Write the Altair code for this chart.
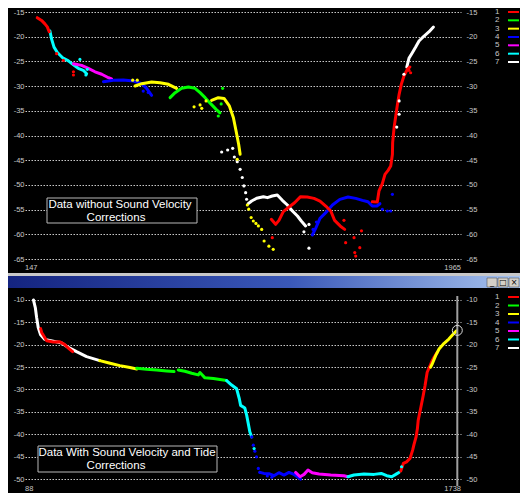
import altair as alt
import pandas as pd

SERIES = ["1", "2", "3", "4", "5", "6", "7"]
SERIES_COLORS = ["#ff0000", "#00ff00", "#ffff00", "#0000ff", "#ff00ff", "#00ffff", "#ffffff"]

TOP_X_RANGE = [147, 1965]
TOP_Y_DOMAIN = [-65.4, -14.39]
TOP_Y_TICKS = [-15, -20, -25, -30, -35, -40, -45, -50, -55, -60, -65]
BOTTOM_X_RANGE = [88, 1738]
BOTTOM_Y_DOMAIN = [-51.33, -7.56]
BOTTOM_Y_TICKS = [-10, -15, -20, -25, -30, -35, -40, -45, -50]
TOP_NOTE = ["Data without Sound Velocity", "Corrections"]
BOTTOM_NOTE = ["Data With Sound Velocity and Tide", "Corrections"]
CURSOR_X = 1724
CURSOR_Y = -16.8

# ---------------- top panel (without corrections) ----------------
T1_A_X = [198, 216, 230, 240, 248]
T1_A_Y = [-16.15, -16.7, -17.4, -18.0, -19.0]
T1_ARC_X = [1174, 1192, 1206, 1224, 1248, 1271, 1296, 1324, 1352, 1377, 1401, 1422, 1438, 1461, 1480]
T1_ARC_Y = [-56.97, -57.98, -57.17, -55.4, -54.47, -53.6, -52.38, -52.45, -52.72, -53.26, -54.27, -55.28, -57.17, -58.3, -58.99]
T1_RISE_X = [1595, 1616, 1623, 1637, 1648, 1661, 1672, 1679, 1680, 1686, 1693, 1700, 1707, 1716, 1727, 1741, 1752]
T1_RISE_Y = [-53.4, -53.46, -51.23, -49.75, -47.86, -47.05, -46.17, -43.81, -41.45, -38.4, -36.05, -33.7, -31.67, -29.64, -27.96, -26.6, -26.13]
T1_PTS_X = [279, 307, 349, 349, 1178, 1484, 1519, 1522, 1543, 1550, 1477, 1526, 1755, 1748]
T1_PTS_Y = [-23.43, -24.78, -27.1, -27.75, -60.68, -61.69, -60.68, -63.7, -62.7, -59.3, -57.17, -64.4, -27.3, -26.8]

T2_X = [752, 773, 800, 828, 856, 877, 898, 921, 944, 960]
T2_Y = [-32.34, -31.33, -30.45, -30.18, -30.45, -31.33, -32.34, -33.55, -34.7, -35.4]
T2_PTS_X = [971, 953, 965]
T2_PTS_Y = [-30.45, -36.05, -33.6]

T3_A_X = [606, 634, 675, 710, 745, 779]
T3_A_Y = [-29.98, -29.5, -29.17, -29.3, -29.64, -30.45]
T3_B_X = [925, 953, 977, 999, 1016, 1030, 1038, 1044]
T3_B_Y = [-32.9, -32.35, -32.5, -34.0, -36.4, -39.8, -41.8, -43.8]
T3_PTS_X = [596, 615, 852, 877, 884, 902, 1032, 1074, 1080, 1090, 1099, 1110, 1120, 1134, 1144, 1164, 1182]
T3_PTS_Y = [-28.8, -28.8, -34.2, -33.8, -34.5, -33.0, -44.8, -54.07, -54.9, -56.6, -57.3, -57.8, -58.3, -59.0, -61.35, -62.4, -63.04]

T4_A_X = [474, 515, 557, 599, 634, 654, 675]
T4_A_Y = [-29.1, -28.83, -28.77, -28.97, -29.5, -30.45, -31.87]
T4_ARC_X = [1345, 1359, 1377, 1401, 1429, 1460, 1494, 1526, 1554, 1577, 1595, 1614, 1627]
T4_ARC_Y = [-60.14, -58.8, -56.77, -55.62, -54.07, -52.92, -52.45, -52.72, -53.12, -53.4, -54.27, -54.27, -53.8]
T4_PTS_X = [640, 661, 1637, 1658, 1672, 1679, 1362, 1348]
T4_PTS_Y = [-31.0, -31.3, -54.94, -55.28, -55.28, -51.9, -57.5, -59.0]

T5_X = [349, 383, 411, 439, 467, 495, 508]
T5_Y = [-25.46, -25.8, -26.4, -27.1, -27.6, -28.3, -28.56]

T6_X = [251, 258, 268, 282, 304, 328, 349, 369, 390, 404]
T6_Y = [-18.85, -20.5, -22.1, -23.2, -24.25, -24.9, -25.7, -26.4, -26.8, -27.5]
T6_PTS_X = [376, 407, 401]
T6_PTS_Y = [-24.6, -26.6, -27.75]

T7_ARC_X = [1078, 1092, 1113, 1141, 1158, 1178, 1199, 1220, 1241, 1262, 1283, 1299, 1317]
T7_ARC_Y = [-53.8, -53.26, -52.7, -52.38, -52.58, -52.24, -52.04, -53.12, -54.07, -55.28, -56.3, -57.3, -58.3]
T7_B_X = [1739, 1748, 1762, 1776, 1790, 1811, 1832, 1850]
T7_B_Y = [-26.13, -24.38, -23.23, -22.09, -20.87, -19.86, -18.98, -18.04]
T7_PTS_X = [967, 992, 1013, 1020, 1032, 1044, 1053, 1060, 1067, 1071, 1310, 1331, 1331, 1727, 1707, 1697, 1707]
T7_PTS_Y = [-43.34, -42.93, -42.6, -44.35, -45.3, -46.85, -48.5, -50.2, -51.57, -52.9, -59.5, -58.0, -62.8, -27.6, -35.7, -38.3, -33.0]

# ---------------- bottom panel (with corrections) ----------------
B7_X = [120, 127, 132, 138, 147, 163, 195, 227, 252, 283, 321, 371]
B7_Y = [-10.0, -11.7, -13.93, -16.15, -17.78, -18.81, -19.2, -19.63, -20.6, -21.56, -22.67, -23.56]
B1_A_X = [147, 151, 170, 195, 218, 236, 252, 268]
B1_A_Y = [-16.4, -17.26, -19.11, -19.41, -19.33, -19.85, -20.74, -21.56]
B3_A_X = [371, 410, 447, 485, 511]
B3_A_Y = [-23.56, -24.15, -24.67, -25.11, -25.41]
B2_A_X = [511, 548, 586, 624, 652]
B2_A_Y = [-25.26, -25.48, -25.63, -25.85, -26.0]
B2_B_X = [668, 693, 719, 744, 750, 769, 801, 826, 851]
B2_B_Y = [-25.63, -25.93, -26.37, -26.74, -26.22, -27.4, -27.55, -27.78, -28.0]
B6_A_X = [851, 870, 889, 899, 904, 920, 927, 933, 939, 946]
B6_A_Y = [-28.0, -29.0, -29.85, -32.07, -33.55, -34.15, -35.78, -37.63, -39.48, -40.6]
B4_X = [977, 992, 1011, 1030, 1049, 1068, 1087, 1106, 1119, 1131]
B4_Y = [-48.5, -48.74, -48.81, -49.26, -48.59, -49.11, -48.52, -48.96, -49.48, -50.0]
B4_PTS_X = [946, 952, 958, 964, 971, 977, 1005, 1022]
B4_PTS_Y = [-40.59, -42.44, -43.78, -45.04, -47.63, -48.5, -49.3, -49.6]
B5_X = [1112, 1129, 1144, 1159, 1175, 1201, 1245, 1295, 1310]
B5_Y = [-48.52, -49.48, -48.96, -48.0, -48.59, -48.89, -49.11, -49.26, -49.48]
B6_B_X = [1310, 1333, 1371, 1409, 1436, 1457, 1476, 1491, 1503]
B6_B_Y = [-49.48, -49.11, -48.89, -48.96, -48.74, -49.26, -49.48, -48.96, -48.52]
B6_PTS_X = [955, 1513]
B6_PTS_Y = [-43.2, -47.26]
B1_B_X = [1510, 1520, 1532, 1545, 1555, 1560, 1568, 1573, 1576, 1585, 1595, 1602, 1606, 1610, 1621, 1629, 1636, 1648]
B1_B_Y = [-48.22, -46.5, -46.15, -45.4, -43.55, -42.3, -40.59, -38.74, -36.9, -34.3, -31.33, -29.1, -27.6, -26.15, -24.67, -23.56, -22.8, -21.7]
B3_B_X = [1623, 1629, 1642, 1655, 1674, 1692, 1709, 1721]
B3_B_Y = [-25.0, -24.3, -22.44, -20.96, -19.7, -18.74, -17.63, -16.89]


def build(parts):
    rows = []
    for seg, (s, xs, ys) in enumerate(parts):
        for i, (x, y) in enumerate(zip(xs, ys)):
            rows.append({"x": x, "y": y, "s": s, "seg": seg, "i": i})
    return pd.DataFrame(rows)


top_lines = build([
    ("7", T7_ARC_X, T7_ARC_Y), ("7", T7_B_X, T7_B_Y),
    ("6", T6_X, T6_Y), ("5", T5_X, T5_Y),
    ("4", T4_A_X, T4_A_Y), ("4", T4_ARC_X, T4_ARC_Y),
    ("3", T3_A_X, T3_A_Y), ("3", T3_B_X, T3_B_Y),
    ("2", T2_X, T2_Y),
    ("1", T1_A_X, T1_A_Y), ("1", T1_ARC_X, T1_ARC_Y), ("1", T1_RISE_X, T1_RISE_Y),
])
top_pts = build([
    ("7", T7_PTS_X, T7_PTS_Y), ("6", T6_PTS_X, T6_PTS_Y), ("4", T4_PTS_X, T4_PTS_Y),
    ("3", T3_PTS_X, T3_PTS_Y), ("2", T2_PTS_X, T2_PTS_Y), ("1", T1_PTS_X, T1_PTS_Y),
])
bottom_lines = build([
    ("7", B7_X, B7_Y), ("1", B1_A_X, B1_A_Y), ("3", B3_A_X, B3_A_Y),
    ("2", B2_A_X, B2_A_Y), ("2", B2_B_X, B2_B_Y), ("6", B6_A_X, B6_A_Y),
    ("4", B4_X, B4_Y), ("5", B5_X, B5_Y), ("6", B6_B_X, B6_B_Y),
    ("1", B1_B_X, B1_B_Y), ("3", B3_B_X, B3_B_Y),
])
bottom_pts = build([
    ("4", B4_PTS_X, B4_PTS_Y), ("6", B6_PTS_X, B6_PTS_Y),
])

COLOR = alt.Color("s:N", scale=alt.Scale(domain=SERIES, range=SERIES_COLORS), legend=None)
LABEL = "#c8c8c8"
ONE = pd.DataFrame({"a": [0]})
RIGHT_EDGE = 495  # panel-local pixel where the drawing ends (keeps chart within 512 px)


def note(lines, box, pos):
    x0, x1, y0, y1 = box
    layers = [alt.Chart(ONE).mark_rect(fill="#000000", stroke="#b8b8b8", strokeWidth=1).encode(
        x=alt.value(x0), x2=alt.value(x1), y=alt.value(y0), y2=alt.value(y1))]
    for t, (cx, cy) in zip(lines, pos):
        layers.append(alt.Chart(ONE).mark_text(text=t, align="center", baseline="middle", fontSize=11.5,
                                               font="Liberation Sans", color="#ffffff").encode(
            x=alt.value(cx), y=alt.value(cy)))
    return layers


def backdrop(H):
    # invisible frame that fixes the panel's outer bounds for the concat layout
    return alt.Chart(ONE).mark_rect(fill="#000000", opacity=0).encode(
        x=alt.value(-17), x2=alt.value(RIGHT_EDGE), y=alt.value(0), y2=alt.value(H))


def xlabels(xs, xdom, H, pad):
    layers = []
    for v, al in [(xdom[0], "left"), (xdom[1], "right")]:
        df = pd.DataFrame({"x": [v], "t": [str(v)]})
        layers.append(alt.Chart(df).mark_text(align=al, baseline="top", fontSize=7.5, font="Liberation Sans",
                                              color=LABEL).encode(
            x=alt.X("x:Q", scale=xs, axis=None), y=alt.value(H + pad), text="t:N"))
    return layers


def panel(lines, pts, xdom, ydom, yticks, W, H, pad, extra):
    xs = alt.Scale(domain=xdom, nice=False, zero=False)
    ys = alt.Scale(domain=ydom, nice=False, zero=False)
    laxis = alt.Axis(values=yticks, orient="left", grid=True, gridDash=[1.5, 1.5], gridColor="#c8c8c8",
                     domain=False, ticks=False, labelPadding=1, title=None, labelExpr="'' + datum.value")
    raxis = alt.Axis(values=yticks, orient="right", grid=False, domain=False, ticks=False, labelPadding=5,
                     title=None, labelAlign="left", labelExpr="'' + datum.value")
    line_layer = alt.Chart(lines).mark_line(strokeWidth=3, strokeJoin="round", strokeCap="round").encode(
        x=alt.X("x:Q", scale=xs, axis=None),
        y=alt.Y("y:Q", scale=ys, axis=laxis),
        color=COLOR, detail="seg:N", order="i:Q")
    pts_layer = alt.Chart(pts).mark_circle(size=10, opacity=1).encode(
        x=alt.X("x:Q", scale=xs, axis=None), y=alt.Y("y:Q", scale=ys, axis=None), color=COLOR)
    right_layer = alt.Chart(pd.DataFrame({"y": yticks})).mark_point(opacity=0).encode(
        y=alt.Y("y:Q", scale=ys, axis=raxis))
    layers = [backdrop(H), line_layer, pts_layer, right_layer] + xlabels(xs, xdom, H, pad) + extra(xs, ys)
    return alt.layer(*layers).properties(width=W, height=H).resolve_axis(y="independent")


def legend(r0, r1, H):
    df = pd.DataFrame({"k": SERIES})
    y = alt.Y("k:O", scale=alt.Scale(type="point", domain=SERIES, range=[r0, r1], padding=0), axis=None)
    txt = alt.Chart(df).mark_text(align="left", baseline="middle", fontSize=8, color=LABEL,
                                  font="Liberation Sans").encode(x=alt.value(1), y=y, text="k:N")
    rule = alt.Chart(df).mark_rule(strokeWidth=2).encode(
        x=alt.value(14), x2=alt.value(25), y=y,
        color=alt.Color("k:N", scale=alt.Scale(domain=SERIES, range=SERIES_COLORS), legend=None))
    return alt.layer(txt, rule).properties(width=26, height=H)


def top_extra(xs, ys):
    layers = note(TOP_NOTE, (22, 172, 189, 214), [(95, 195.5), (91, 209)])
    layers.append(alt.Chart(ONE).mark_rect(fill="#c8c8c8").encode(
        x=alt.value(-17), x2=alt.value(RIGHT_EDGE), y=alt.value(264), y2=alt.value(267)))
    layers.append(alt.Chart(ONE).mark_rect(fill={
        "gradient": "linear", "x1": 0, "x2": 1, "y1": 0, "y2": 0,
        "stops": [{"offset": 0, "color": "#142480"}, {"offset": 0.55, "color": "#3a58b8"},
                  {"offset": 1, "color": "#a8c4ee"}]}).encode(
        x=alt.value(-17), x2=alt.value(RIGHT_EDGE), y=alt.value(267), y2=alt.value(279)))
    for i, g in enumerate(["_", "□", "×"]):
        bx = 462 + 11 * i
        layers.append(alt.Chart(ONE).mark_rect(fill="#d4d0c8", stroke="#404040", strokeWidth=0.5).encode(
            x=alt.value(bx), x2=alt.value(bx + 10), y=alt.value(269), y2=alt.value(278)))
        layers.append(alt.Chart(ONE).mark_text(text=g, fontSize=8, font="DejaVu Sans", color="#000000",
                                               align="center", baseline="middle").encode(
            x=alt.value(bx + 5), y=alt.value(273.5)))
    return layers


def bottom_extra(xs, ys):
    layers = note(BOTTOM_NOTE, (13, 192, 157, 183), [(102, 164), (91, 177)])
    cur = pd.DataFrame({"x": [CURSOR_X], "y": [CURSOR_Y]})
    layers.append(alt.Chart(cur).mark_rule(color="#a0a0a0", strokeWidth=2).encode(
        x=alt.X("x:Q", scale=xs, axis=None), y=alt.value(7), y2=alt.value(197)))
    layers.append(alt.Chart(cur).mark_point(shape="circle", size=100, filled=False, color="#d8d8d8",
                                            strokeWidth=1, opacity=1).encode(
        x=alt.X("x:Q", scale=xs, axis=None), y=alt.Y("y:Q", scale=ys, axis=None)))
    return layers


top = panel(top_lines, top_pts, TOP_X_RANGE, TOP_Y_DOMAIN, TOP_Y_TICKS, 436, 252, 3, top_extra)
bottom = panel(bottom_lines, bottom_pts, BOTTOM_X_RANGE, BOTTOM_Y_DOMAIN, BOTTOM_Y_TICKS, 436, 196, 0,
               bottom_extra)

chart = alt.vconcat(
    alt.hconcat(top, legend(3, 53, 60), spacing=33, bounds="flush"),
    alt.hconcat(bottom, legend(8, 59, 62), spacing=33, bounds="flush"),
    spacing=1,
).configure(background="#000000", padding=0).configure_view(strokeWidth=0).configure_axis(
    labelFont="Liberation Sans", labelFontSize=7.5, labelColor=LABEL)

chart.save("out.html", embed_options={"renderer": "svg", "actions": False})
